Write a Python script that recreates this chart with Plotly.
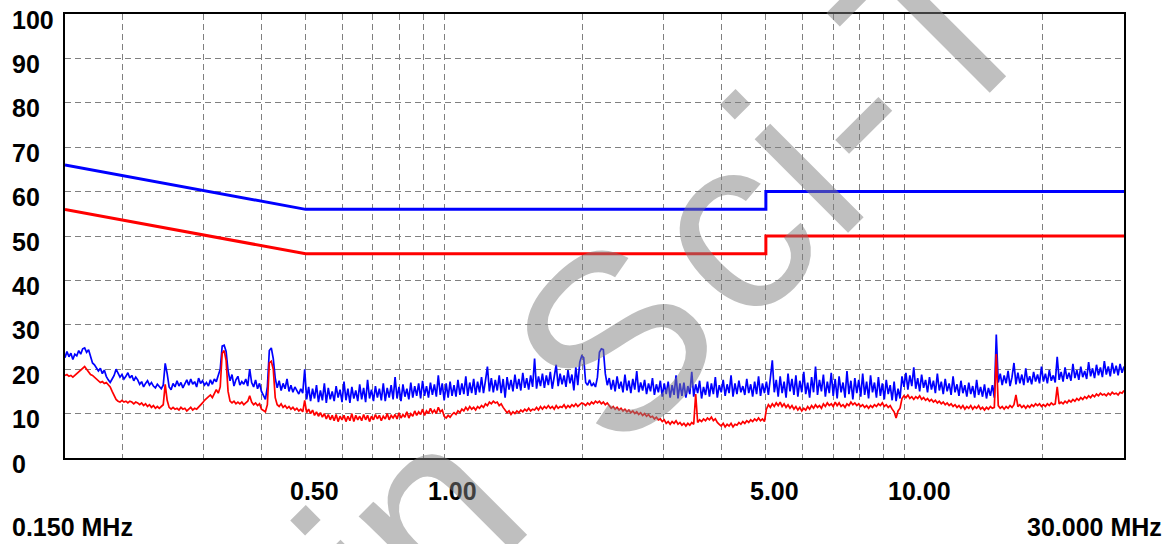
import numpy as np
import plotly.graph_objects as go

# ---------------- data ----------------
START_MHZ = 0.15
STOP_MHZ = 30.0

QP_LIMIT_FREQ = [0.15, 0.5, 5.0, 5.0, 30.0]
QP_LIMIT_DB = [66, 56, 56, 60, 60]
AV_LIMIT_FREQ = [0.15, 0.5, 5.0, 5.0, 30.0]
AV_LIMIT_DB = [56, 46, 46, 50, 50]

# peak detector sweep (blue)
PEAK_DB = [
    22.6, 24.0, 22.8, 23.6, 22.2, 23.4, 23.0, 24.2, 23.4, 24.6,
    24.8, 23.8, 24.4, 22.6, 21.4, 21.0, 20.4, 19.6, 20.2, 19.0,
    19.8, 18.4, 17.6, 17.0, 17.8, 18.6, 20.0, 19.2, 18.2, 18.8,
    17.8, 18.4, 19.2, 18.0, 18.6, 17.4, 18.2, 17.6, 16.6, 17.2,
    16.0, 16.8, 17.4, 16.4, 17.0, 16.2, 15.8, 16.6, 16.0, 15.6,
    16.4, 21.3, 19.0, 16.0, 15.4, 16.8, 16.0, 17.4, 16.2, 17.0,
    15.8, 16.6, 17.6, 16.4, 17.8, 16.6, 17.2, 16.0, 18.0, 16.8,
    17.4, 16.4, 17.0, 16.2, 17.6, 16.6, 17.8, 17.2, 18.6, 20.0,
    25.2, 25.4, 24.0, 19.6, 17.4, 18.8, 16.2, 17.6, 18.4, 16.4,
    17.2, 16.6, 17.8, 16.2, 20.0, 17.0, 16.0, 17.6, 15.6, 16.8,
    15.0, 14.0, 13.2, 16.0, 24.2, 24.8, 22.4, 18.0, 15.8, 17.4,
    15.2, 16.8, 15.6, 17.8, 15.0, 16.4, 14.8, 16.0, 15.2, 14.4,
    15.6, 14.6, 20.0, 13.2, 16.0, 12.8, 15.6, 13.4, 16.4, 12.6,
    15.2, 13.0, 16.8, 12.4, 15.8, 13.2, 15.0, 12.8, 16.2, 13.6,
    15.4, 12.6, 17.2, 13.0, 15.6, 12.4, 16.0, 13.4, 15.2, 12.8,
    16.6, 13.2, 15.8, 12.6, 17.6, 13.4, 15.4, 12.8, 16.2, 13.6,
    15.6, 13.0, 16.8, 12.8, 15.8, 13.6, 16.4, 13.2, 18.2, 13.4,
    16.0, 12.8, 16.6, 13.8, 15.6, 13.2, 17.0, 13.6, 16.2, 14.0,
    16.8, 13.4, 17.4, 14.0, 16.2, 13.6, 17.0, 14.2, 16.6, 13.8,
    18.6, 14.2, 16.8, 13.0, 16.8, 13.6, 17.2, 14.0, 16.4, 13.8,
    17.6, 14.2, 16.8, 14.4, 18.4, 14.0, 17.0, 14.6, 17.8, 14.2,
    17.2, 14.8, 18.2, 14.6, 17.4, 20.6, 15.0, 18.0, 14.8, 17.6,
    15.2, 18.6, 14.6, 17.8, 13.6, 18.2, 15.4, 17.6, 15.0, 18.8,
    15.6, 17.8, 15.2, 19.2, 15.8, 18.0, 15.4, 18.6, 16.0, 22.4,
    15.6, 18.4, 16.2, 19.0, 15.8, 18.6, 16.4, 19.4, 15.6, 18.2,
    21.0, 16.2, 19.0, 16.6, 18.6, 16.0, 19.8, 16.8, 18.8, 15.2,
    20.4, 16.4, 21.6, 23.0, 22.6, 17.0, 16.4, 17.6, 16.2, 16.8,
    16.0, 18.2, 23.8, 24.6, 24.4, 19.0, 16.4, 18.0, 15.4, 17.6,
    15.0, 18.4, 15.6, 17.2, 14.8, 18.8, 15.2, 17.4, 14.6, 17.8,
    15.4, 19.6, 14.8, 17.0, 15.2, 17.6, 14.4, 16.8, 15.0, 18.0,
    14.2, 16.6, 14.8, 17.4, 13.8, 16.8, 14.4, 17.2, 13.6, 16.4,
    14.2, 18.6, 13.4, 16.8, 14.0, 17.0, 13.6, 16.2, 14.4, 19.4,
    13.8, 16.6, 14.6, 17.4, 13.4, 16.0, 14.2, 17.2, 13.8, 16.8,
    14.4, 18.2, 13.6, 16.4, 14.8, 17.6, 14.0, 16.6, 14.6, 18.6,
    13.8, 16.8, 14.4, 17.4, 14.8, 16.2, 14.2, 17.8, 14.6, 16.6,
    13.8, 17.2, 14.4, 18.4, 14.0, 16.8, 14.6, 17.2, 14.2, 18.0,
    22.0, 14.8, 17.6, 13.8, 18.4, 14.6, 17.2, 13.6, 19.0, 15.0,
    17.8, 14.2, 18.6, 13.8, 17.4, 14.8, 19.4, 14.4, 17.0, 13.6,
    18.2, 14.8, 20.6, 14.2, 17.6, 15.0, 18.8, 13.8, 17.2, 14.6,
    19.2, 14.0, 17.8, 13.4, 18.4, 14.8, 17.0, 13.6, 19.6, 14.4,
    17.4, 13.2, 18.0, 14.6, 17.6, 13.8, 19.0, 14.2, 17.2, 13.4,
    18.6, 14.8, 17.0, 13.6, 18.2, 14.0, 16.8, 13.2, 17.6, 14.4,
    16.4, 13.0, 17.2, 12.8, 15.6, 13.4, 18.4, 16.0, 19.2, 15.4,
    18.6, 16.2, 20.4, 15.6, 18.0, 15.0, 18.8, 15.8, 17.6, 14.8,
    18.2, 15.4, 17.4, 14.6, 19.0, 15.2, 17.2, 14.4, 17.8, 15.0,
    16.8, 14.2, 18.4, 14.8, 16.6, 14.0, 17.4, 14.6, 16.4, 13.8,
    17.0, 14.4, 16.2, 13.6, 17.6, 14.2, 16.0, 13.8, 16.6, 13.4,
    15.8, 14.0, 16.4, 13.6, 27.8, 17.0, 19.0, 16.4, 18.6, 16.8,
    19.6, 16.2, 18.2, 21.4, 16.6, 19.2, 16.8, 18.8, 16.4, 20.2,
    17.0, 18.4, 16.6, 19.4, 17.2, 18.8, 16.8, 20.6, 17.2, 19.0,
    16.8, 19.8, 17.4, 18.6, 17.0, 22.8, 17.6, 19.4, 17.2, 20.4,
    17.8, 19.2, 17.4, 21.2, 18.0, 19.8, 17.6, 20.6, 18.2, 19.6,
    17.8, 21.6, 18.4, 20.2, 18.0, 21.0, 18.6, 20.4, 18.2, 21.8,
    18.8, 20.6, 18.4, 21.4, 19.0, 20.8, 18.6, 21.2, 19.2, 20.6,
]

# average detector sweep (red)
AVG_DB = [
    18.6, 18.8, 18.4, 18.6, 18.2, 18.6, 18.8, 19.2, 19.8, 20.2,
    20.6, 20.0, 19.4, 18.8, 18.6, 18.2, 17.8, 17.4, 17.0, 17.2,
    16.8, 17.0, 16.4, 16.0, 15.0, 14.0, 13.2, 12.8, 12.6, 13.0,
    12.6, 12.8, 12.4, 12.8, 12.6, 12.2, 12.6, 12.4, 12.0, 12.4,
    11.8, 12.2, 11.6, 12.0, 11.4, 11.8, 11.2, 11.6, 11.2, 11.6,
    12.0, 16.6, 13.0, 11.4, 11.0, 11.4, 11.0, 11.2, 10.8, 11.4,
    11.0, 11.2, 10.6, 11.0, 11.4, 10.8, 11.2, 11.0, 11.4, 11.8,
    12.4, 13.0, 13.4, 13.8, 14.2, 13.6, 14.4, 15.4, 14.6, 16.0,
    23.6, 24.2, 22.0, 15.0, 12.8, 12.4, 12.8, 12.2, 12.6, 12.2,
    12.6, 12.0, 12.4, 12.8, 14.0, 12.6, 12.0, 12.4, 11.8, 12.2,
    11.0, 10.6, 10.4, 12.0, 21.4, 21.8, 20.0, 13.6, 12.0, 11.6,
    12.2, 11.4, 11.8, 11.2, 11.6, 11.0, 11.4, 10.8, 11.2, 10.6,
    11.0, 10.4, 13.0, 10.2, 11.0, 10.0, 10.8, 9.6, 10.4, 9.4,
    10.2, 9.2, 10.0, 8.8, 9.8, 8.6, 9.6, 8.4, 9.8, 8.2,
    9.4, 8.6, 9.6, 8.2, 9.4, 8.4, 10.0, 8.2, 9.6, 8.6,
    9.4, 8.4, 9.8, 8.6, 9.6, 8.2, 9.4, 8.6, 9.8, 8.8,
    9.6, 8.4, 9.4, 8.8, 10.0, 8.6, 9.6, 9.0, 9.8, 8.8,
    10.2, 9.0, 9.8, 9.2, 10.4, 9.0, 10.0, 9.4, 10.6, 9.6,
    10.4, 9.8, 11.0, 9.6, 10.6, 10.0, 11.2, 10.2, 10.8, 10.0,
    11.4, 10.4, 10.8, 9.4, 9.0, 9.6, 9.2, 9.8, 10.2, 9.8,
    10.6, 10.2, 11.0, 10.6, 11.4, 10.8, 11.6, 11.0, 11.4, 10.8,
    11.6, 11.2, 11.8, 11.4, 12.2, 11.8, 12.6, 12.2, 12.8, 12.4,
    12.6, 11.8, 12.2, 11.4, 10.8, 10.2, 10.6, 9.8, 10.4, 10.0,
    10.6, 10.2, 10.8, 10.4, 11.0, 10.6, 11.2, 10.6, 11.0, 10.8,
    11.4, 10.8, 11.6, 11.0, 11.6, 11.2, 11.8, 11.2, 11.6, 11.0,
    11.8, 11.2, 11.6, 11.4, 12.0, 11.2, 11.8, 11.4, 12.0, 11.6,
    12.2, 11.6, 12.0, 12.4, 12.2, 11.8, 12.4, 12.0, 12.6, 12.2,
    12.8, 12.4, 12.8, 12.2, 12.6, 12.0, 12.4, 11.8, 11.2, 11.6,
    11.0, 11.4, 10.8, 11.2, 10.6, 11.0, 10.4, 10.8, 10.2, 10.6,
    10.0, 10.4, 9.8, 10.2, 9.6, 10.0, 9.4, 9.8, 9.2, 9.4,
    8.8, 9.2, 8.6, 8.8, 8.2, 8.6, 7.8, 8.2, 7.6, 8.2,
    7.8, 8.4, 7.6, 8.0, 7.4, 7.8, 7.2, 7.8, 7.4, 8.0,
    7.6, 14.4, 8.0, 8.6, 8.2, 8.8, 8.4, 9.0, 8.6, 9.2,
    8.4, 8.8, 8.0, 7.6, 7.2, 7.8, 7.0, 7.6, 7.2, 7.8,
    7.0, 7.6, 7.4, 8.0, 7.6, 8.2, 7.8, 8.4, 8.0, 8.6,
    8.2, 8.8, 8.4, 9.0, 8.4, 8.8, 8.2, 11.0, 12.0, 11.4,
    12.2, 11.6, 12.4, 11.8, 12.6, 11.6, 12.2, 11.4, 12.0, 11.2,
    11.8, 11.0, 11.6, 10.8, 11.4, 10.6, 11.2, 10.8, 11.6, 11.0,
    11.8, 11.2, 12.0, 11.4, 11.8, 11.2, 12.2, 11.6, 12.4, 11.8,
    12.2, 11.6, 12.6, 11.8, 12.4, 11.6, 12.0, 11.4, 12.2, 11.8,
    12.6, 12.0, 12.4, 11.8, 12.2, 11.6, 12.0, 11.4, 11.8, 11.2,
    11.8, 11.4, 12.0, 11.6, 12.2, 11.8, 12.4, 11.6, 12.0, 11.4,
    11.8, 11.0, 10.4, 9.0, 10.6, 11.2, 13.4, 14.0, 13.6, 14.2,
    13.4, 13.8, 13.2, 13.8, 13.4, 14.0, 13.2, 13.6, 13.0, 13.4,
    12.8, 13.2, 12.6, 13.0, 12.4, 12.8, 12.2, 12.6, 12.0, 12.4,
    11.8, 12.2, 11.6, 12.0, 11.4, 11.8, 11.2, 11.8, 11.0, 11.6,
    11.2, 11.8, 11.0, 11.6, 11.2, 11.8, 11.0, 11.4, 10.8, 11.4,
    11.0, 11.6, 11.2, 11.4, 23.4, 11.8, 11.2, 11.6, 11.0, 11.6,
    11.2, 11.8, 11.4, 12.0, 14.2, 11.6, 12.0, 11.4, 11.8, 11.2,
    11.8, 11.4, 12.0, 11.6, 12.2, 11.8, 12.2, 11.6, 12.0, 11.6,
    12.2, 11.8, 12.4, 12.0, 12.2, 16.0, 12.2, 12.6, 12.2, 12.8,
    12.4, 13.0, 12.6, 13.2, 12.8, 13.4, 13.0, 13.6, 13.2, 13.8,
    13.4, 14.0, 13.6, 14.2, 13.8, 14.4, 14.0, 14.6, 14.2, 14.4,
    14.0, 14.6, 14.2, 14.8, 14.4, 14.6, 14.2, 14.8, 14.6, 15.2,
]

X_GRID = [0.2, 0.3, 0.4, 0.5, 0.6, 0.7, 0.8, 0.9, 1, 2, 3, 4, 5, 6, 7, 8, 9, 10, 20]
X_LABEL_VALUES = [0.5, 1, 5, 10]
X_LABEL_TEXT = ["0.50", "1.00", "5.00", "10.00"]
Y_TICKS = [0, 10, 20, 30, 40, 50, 60, 70, 80, 90, 100]
START_LABEL = "0.150 MHz"
STOP_LABEL = "30.000 MHz"
WATERMARK = ["i", "n", "S", "c", "i", "-", "T"]

# ---------------- layout (page pixels) ----------------
W, H = 1173, 544
PLOT_L, PLOT_T, PLOT_R, PLOT_B = 65, 12, 1124, 458   # plot frame on the page
PW, PH = PLOT_R - PLOT_L, PLOT_B - PLOT_T


def px_to_paper(px, py):
    return (px - PLOT_L) / PW, (PLOT_B - py) / PH


sweep = np.geomspace(START_MHZ, STOP_MHZ, len(PEAK_DB))

fig = go.Figure()
fig.add_trace(go.Scatter(x=sweep, y=PEAK_DB, mode="lines",
                         line=dict(color="#0000ff", width=1.7)))
fig.add_trace(go.Scatter(x=sweep, y=AVG_DB, mode="lines",
                         line=dict(color="#ff0000", width=1.7)))
fig.add_trace(go.Scatter(x=QP_LIMIT_FREQ, y=QP_LIMIT_DB, mode="lines",
                         line=dict(color="#0000ff", width=3)))
fig.add_trace(go.Scatter(x=AV_LIMIT_FREQ, y=AV_LIMIT_DB, mode="lines",
                         line=dict(color="#ff0000", width=3)))

grid = dict(showgrid=True, gridcolor="#808080", gridwidth=1, griddash="6px,4px",
            showline=True, linecolor="black", linewidth=2, mirror=True,
            zeroline=False, ticks="")

fig.update_layout(
    width=W, height=H,
    margin=dict(l=PLOT_L, r=W - PLOT_R, t=PLOT_T, b=H - PLOT_B, pad=0),
    paper_bgcolor="white", plot_bgcolor="white",
    showlegend=False, hovermode=False,
    xaxis=dict(type="log", range=[np.log10(START_MHZ), np.log10(STOP_MHZ)],
               tickmode="array", tickvals=X_GRID, ticktext=[""] * len(X_GRID),
               **grid),
    yaxis=dict(range=[0, 100], tickmode="array", tickvals=Y_TICKS,
               showticklabels=False, **grid),
)

lab_font = dict(family="Liberation Sans", size=25, color="black", weight="bold")
ann = []
for v in Y_TICKS:
    ann.append(dict(x=px_to_paper(10, 0)[0], xref="paper", y=v, yref="y", text=str(v),
                    xanchor="left", yanchor="middle", yshift=-5.5,
                    showarrow=False, font=lab_font))
for v, t in zip(X_LABEL_VALUES, X_LABEL_TEXT):
    ann.append(dict(x=np.log10(v), xref="x", y=0, yref="paper", text=t,
                    xanchor="left", yanchor="middle", xshift=-18, yshift=-33,
                    showarrow=False, font=lab_font))
ann.append(dict(x=px_to_paper(10, 0)[0], xref="paper", y=px_to_paper(0, 527)[1],
                yref="paper", text=START_LABEL, xanchor="left", yanchor="middle",
                showarrow=False, font=lab_font))
ann.append(dict(x=px_to_paper(1164, 0)[0], xref="paper", y=px_to_paper(0, 527)[1],
                yref="paper", text=STOP_LABEL, xanchor="right", yanchor="middle",
                showarrow=False, font=lab_font))

# watermark glyph centres (page pixels)
wm_pos = [(365, 580), (428, 512), (614.5, 339.5), (727, 228),
          (795, 162.5), (849, 110), (937, 22)]
for ch, (px, py) in zip(WATERMARK, wm_pos):
    xp, yp = px_to_paper(px, py)
    ann.append(dict(x=xp, y=yp, xref="paper", yref="paper", text=ch,
                    xanchor="center", yanchor="middle", textangle=-45,
                    showarrow=False,
                    font=dict(family="Liberation Sans", size=250,
                              color="rgba(128,128,128,0.5)")))

fig.update_layout(annotations=ann)
fig.write_html("out.html",
               config={"displayModeBar": False, "staticPlot": True},
               post_script="document.body.style.margin='0px';"
                           "document.body.style.overflow='hidden';")
